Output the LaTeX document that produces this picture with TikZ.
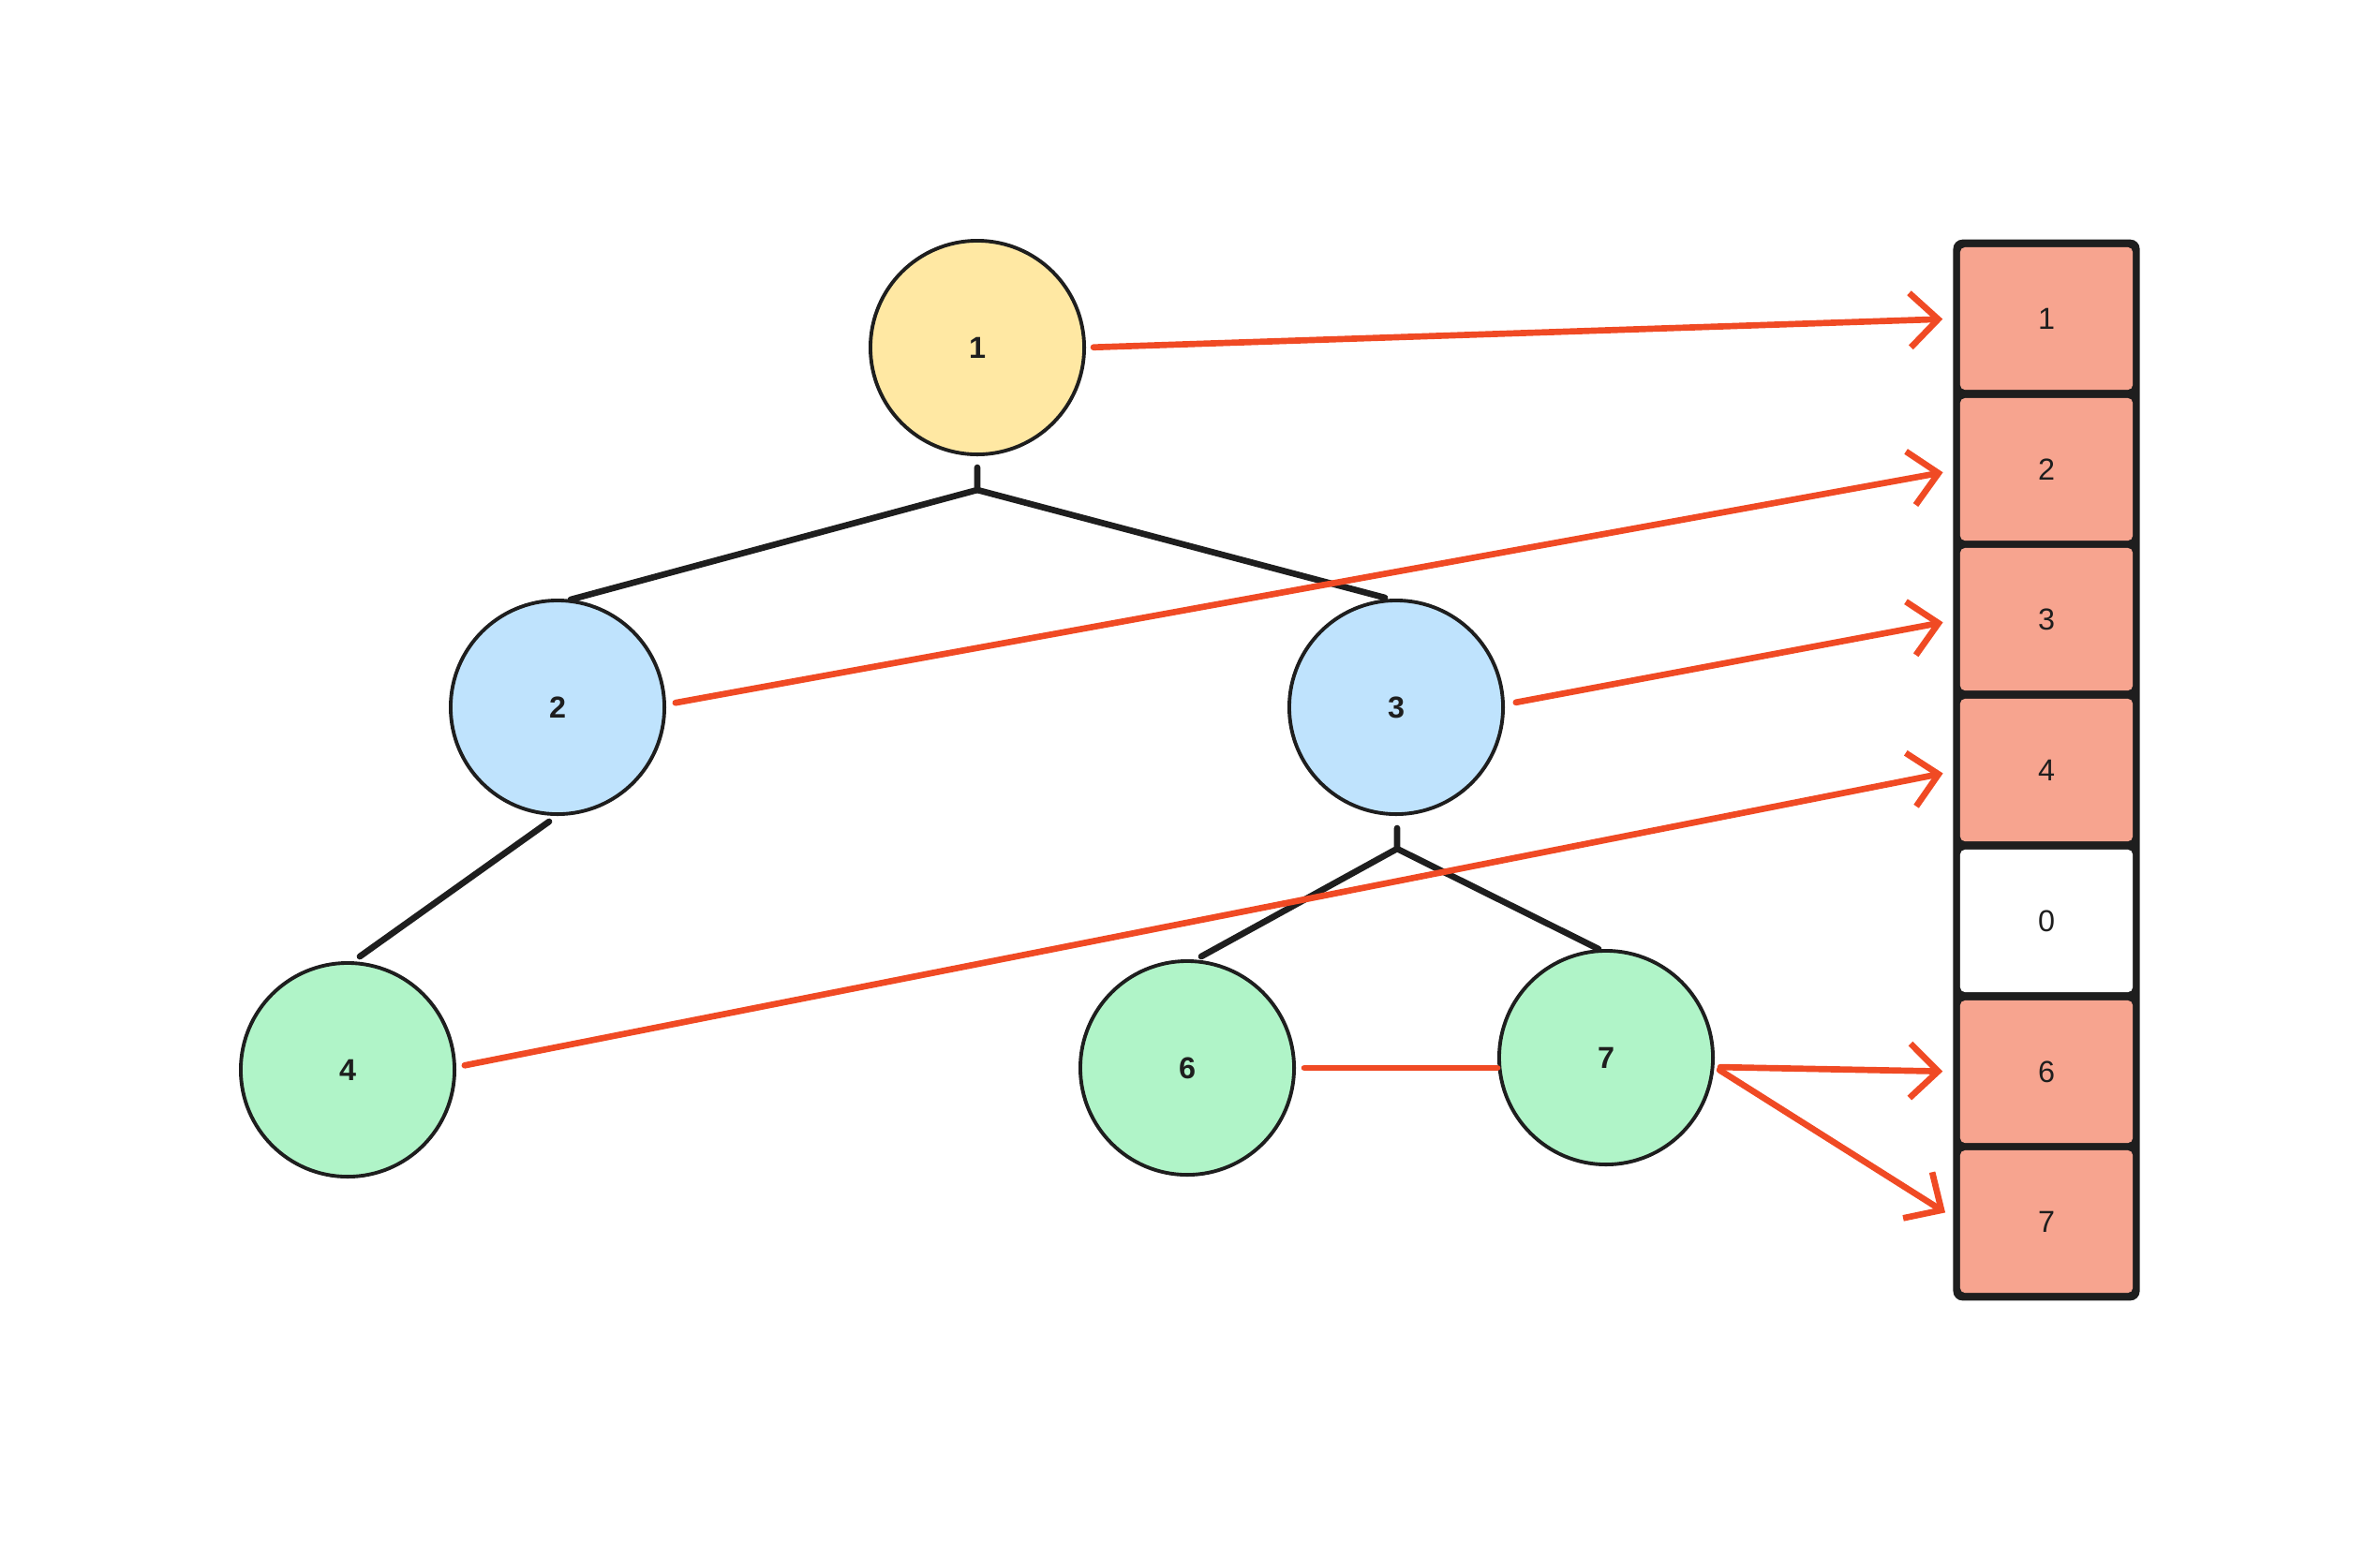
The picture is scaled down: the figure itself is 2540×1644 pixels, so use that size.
\documentclass[tikz,border=0pt]{standalone}
\usepackage{fontspec}
\setmainfont{Liberation Sans}
\usetikzlibrary{arrows.meta}
\definecolor{ink}{HTML}{1E1E1E}
\definecolor{redl}{HTML}{F04A24}
\definecolor{yel}{HTML}{FFE8A3}
\definecolor{blu}{HTML}{BFE3FD}
\definecolor{grn}{HTML}{B0F4C8}
\definecolor{sal}{HTML}{F7A48F}
\tikzset{
  tnode/.style={circle, draw=ink, line width=1.1pt, minimum size=2.28cm, inner sep=0pt, font=\fontsize{9.2}{10}\selectfont\bfseries, text=ink},
  cell/.style={rectangle, rounded corners=0.05cm, minimum width=1.84cm, minimum height=1.52cm, inner sep=0pt, font=\fontsize{9.2}{10}\selectfont, text=ink},
  tree/.style={draw=ink, line width=1.9pt, line cap=round, line join=round},
  ptr/.style={draw=redl, line width=1.9pt, line cap=round, -{Straight Barb[length=0.3cm, width=0.58cm, line width=1.9pt]}},
  ptrplain/.style={draw=redl, line width=1.9pt, line cap=round}
}
\begin{document}
\begin{tikzpicture}[x=0.01cm, y=-0.01cm]
\useasboundingbox (0,0) rectangle (2540,1644);
% tree nodes
\node[tnode, fill=yel] (n1) at (1043,371) {1};
\node[tnode, fill=blu] (n2) at (595,755) {2};
\node[tnode, fill=blu] (n3) at (1490,755) {3};
\node[tnode, fill=grn] (n4) at (371,1142) {4};
\node[tnode, fill=grn] (n6) at (1267,1140) {6};
\node[tnode, fill=grn] (n7) at (1714,1129) {7};
% array
\node[rectangle, fill=ink, rounded corners=0.1cm, minimum width=1.99cm, minimum height=11.32cm, inner sep=0pt] (arr) at (2184,822) {};
\node[cell, fill=sal] (c1) at (2184,340) {1};
\node[cell, fill=sal] (c2) at (2184,501) {2};
\node[cell, fill=sal] (c3) at (2184,661) {3};
\node[cell, fill=sal] (c4) at (2184,822) {4};
\node[cell, fill=white] (c0) at (2184,983) {0};
\node[cell, fill=sal] (c6) at (2184,1144) {6};
\node[cell, fill=sal] (c7) at (2184,1304) {7};
% tree connectors
\coordinate (s1) at (1043,499);
\coordinate (j1) at (1043,523);
\coordinate (e12) at (609,640);
\coordinate (e13) at (1478,638);
\coordinate (e24a) at (586,877);
\coordinate (e24b) at (384,1021);
\coordinate (s3) at (1491,884);
\coordinate (j3) at (1491,906);
\coordinate (e36) at (1282,1021);
\coordinate (e37) at (1706,1013);
\draw[tree] (s1) -- (j1) -- (e12);
\draw[tree] (j1) -- (e13);
\draw[tree] (e24a) -- (e24b);
\draw[tree] (s3) -- (j3) -- (e36);
\draw[tree] (j3) -- (e37);
% pointers
\draw[ptr, shorten <=0.08cm, shorten >=0.18cm] (n1.east) -- (c1.west);
\draw[ptr, shorten <=0.1cm, shorten >=0.18cm] ([yshift=0.03cm]n2.east) -- (c2.west);
\draw[ptr, shorten <=0.12cm, shorten >=0.18cm] ([yshift=0.03cm]n3.east) -- (c3.west);
\draw[ptr, shorten <=0.09cm, shorten >=0.18cm] ([yshift=0.03cm]n4.east) -- (c4.west);
\draw[ptrplain, shorten <=0.09cm] (n6.east) -- (n6.east -| n7.west);
\draw[ptr, shorten <=0.06cm, shorten >=0.18cm] ([yshift=-0.1cm]n7.east) -- (c6.west);
\draw[ptr, shorten <=0.06cm, shorten >=0.18cm] ([yshift=-0.1cm]n7.east) -- (c7.west);
\end{tikzpicture}
\end{document}
